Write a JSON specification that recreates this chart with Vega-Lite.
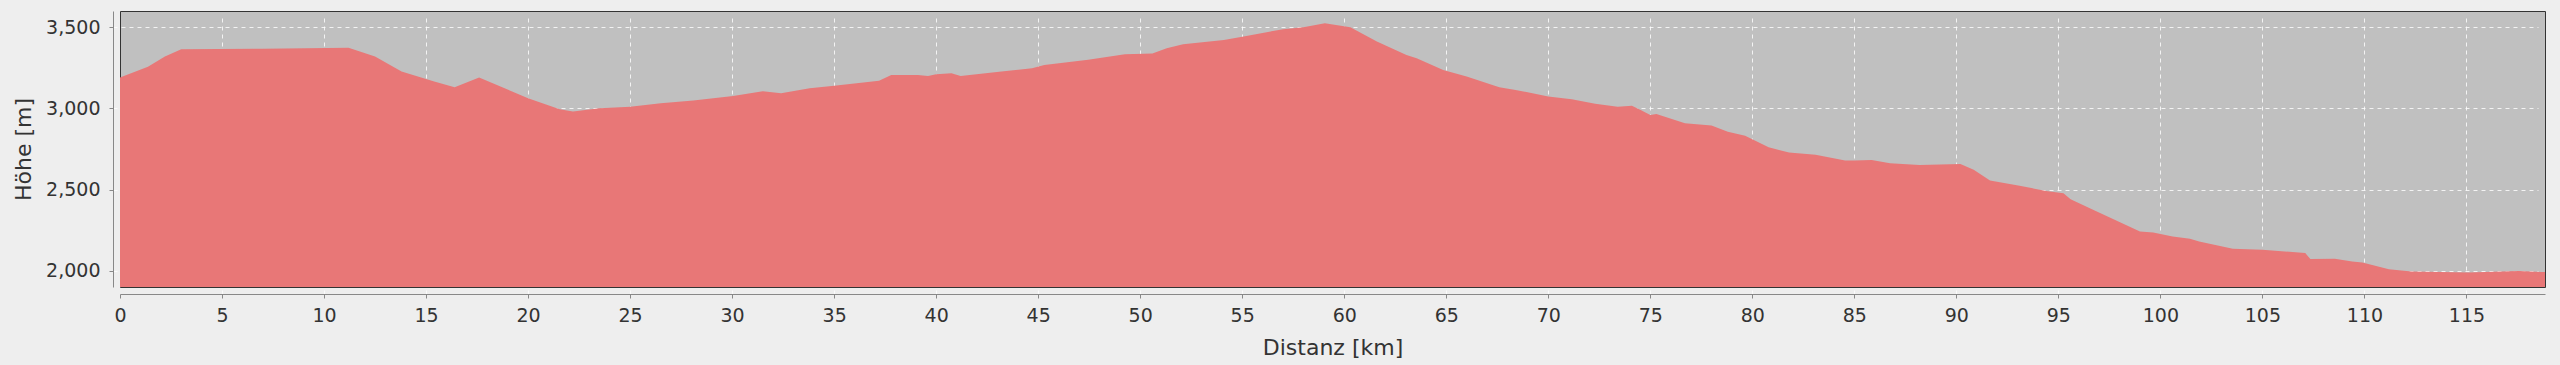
{
  "$schema": "https://vega.github.io/schema/vega-lite/v6.json",
  "width": 2425,
  "height": 276,
  "autosize": {"type": "none"},
  "padding": {"left": 120, "top": 11, "right": 15, "bottom": 78},
  "background": "#eeeeee",
  "config": {
    "view": {"fill": "#c0c0c0", "stroke": "#333333", "strokeWidth": 1},
    "axis": {
      "labelFont": "DejaVu Sans",
      "titleFont": "DejaVu Sans",
      "labelFontSize": 19,
      "titleFontSize": 22,
      "titleFontWeight": "normal",
      "labelColor": "#333333",
      "titleColor": "#333333",
      "domainColor": "#888888",
      "tickColor": "#888888",
      "tickSize": 4,
      "offset": 7,
      "grid": true,
      "gridColor": "#ffffff",
      "gridDash": [4, 4],
      "gridWidth": 1
    }
  },
  "data": {
    "values": [
      {"km": 0, "m": 3190}, {"km": 0.7, "m": 3225}, {"km": 1.37, "m": 3257}, {"km": 2.2, "m": 3320},
      {"km": 3.0, "m": 3365}, {"km": 7.0, "m": 3368}, {"km": 11.2, "m": 3373}, {"km": 12.5, "m": 3319},
      {"km": 13.8, "m": 3227}, {"km": 15.4, "m": 3165}, {"km": 16.4, "m": 3131}, {"km": 17.6, "m": 3190},
      {"km": 20.0, "m": 3063}, {"km": 21.55, "m": 2995}, {"km": 22.2, "m": 2981}, {"km": 23.5, "m": 3001},
      {"km": 25.0, "m": 3011}, {"km": 26.5, "m": 3032}, {"km": 28.1, "m": 3048}, {"km": 30.05, "m": 3077},
      {"km": 31.5, "m": 3106}, {"km": 32.4, "m": 3094}, {"km": 33.8, "m": 3124}, {"km": 35.0, "m": 3139},
      {"km": 37.2, "m": 3171}, {"km": 37.8, "m": 3206}, {"km": 39.1, "m": 3206}, {"km": 39.6, "m": 3200},
      {"km": 40.0, "m": 3211}, {"km": 40.75, "m": 3217}, {"km": 41.2, "m": 3200}, {"km": 43.2, "m": 3227},
      {"km": 44.7, "m": 3248}, {"km": 45.3, "m": 3268}, {"km": 47.45, "m": 3299}, {"km": 49.25, "m": 3334},
      {"km": 50.6, "m": 3338}, {"km": 51.3, "m": 3371}, {"km": 52.1, "m": 3395}, {"km": 54.1, "m": 3422},
      {"km": 55.0, "m": 3442}, {"km": 57.0, "m": 3488}, {"km": 58.0, "m": 3500}, {"km": 59.05, "m": 3525},
      {"km": 60.3, "m": 3500}, {"km": 61.6, "m": 3412}, {"km": 63.05, "m": 3329}, {"km": 63.55, "m": 3309},
      {"km": 64.85, "m": 3237}, {"km": 66.0, "m": 3196}, {"km": 67.6, "m": 3131}, {"km": 68.4, "m": 3114},
      {"km": 70.0, "m": 3073}, {"km": 71.15, "m": 3057}, {"km": 72.3, "m": 3028}, {"km": 73.4, "m": 3011},
      {"km": 74.1, "m": 3017}, {"km": 74.6, "m": 2985}, {"km": 75.0, "m": 2960}, {"km": 75.3, "m": 2965},
      {"km": 76.7, "m": 2909}, {"km": 78.0, "m": 2894}, {"km": 78.8, "m": 2857}, {"km": 79.65, "m": 2831},
      {"km": 80.8, "m": 2761}, {"km": 81.8, "m": 2728}, {"km": 83.1, "m": 2714}, {"km": 84.55, "m": 2679},
      {"km": 85.0, "m": 2679}, {"km": 85.85, "m": 2683}, {"km": 86.75, "m": 2663}, {"km": 88.2, "m": 2652},
      {"km": 90.2, "m": 2658}, {"km": 90.85, "m": 2622}, {"km": 91.65, "m": 2556}, {"km": 93.1, "m": 2523},
      {"km": 94.4, "m": 2492}, {"km": 95.25, "m": 2478}, {"km": 95.6, "m": 2441}, {"km": 96.7, "m": 2376},
      {"km": 99.0, "m": 2242}, {"km": 99.65, "m": 2236}, {"km": 100.6, "m": 2211}, {"km": 101.45, "m": 2197},
      {"km": 101.9, "m": 2180}, {"km": 103.55, "m": 2135}, {"km": 105.0, "m": 2129}, {"km": 107.1, "m": 2109},
      {"km": 107.35, "m": 2072}, {"km": 108.55, "m": 2074}, {"km": 109.4, "m": 2057}, {"km": 109.9, "m": 2051},
      {"km": 111.2, "m": 2010}, {"km": 112.3, "m": 1996}, {"km": 115.1, "m": 1990}, {"km": 117.55, "m": 1998},
      {"km": 118.85, "m": 1992}
    ]
  },
  "mark": {"type": "area", "color": "#e87777", "clip": true, "interpolate": "linear"},
  "encoding": {
    "x": {
      "field": "km",
      "type": "quantitative",
      "scale": {"domain": [0, 118.85], "nice": false, "zero": false},
      "axis": {
        "title": "Distanz [km]",
        "values": [0,5,10,15,20,25,30,35,40,45,50,55,60,65,70,75,80,85,90,95,100,105,110,115],
        "labelPadding": 8,
        "labelFlush": false,
        "titlePadding": 12,
        "format": "d",
        "gridOpacity": {"condition": {"test": "datum.value === 0", "value": 0}, "value": 0.8}
      }
    },
    "y": {
      "field": "m",
      "type": "quantitative",
      "scale": {"domain": [1900, 3600], "nice": false, "zero": false},
      "axis": {
        "title": "Höhe [m]",
        "values": [2000, 2500, 3000, 3500],
        "format": ",d",
        "labelPadding": 9,
        "titlePadding": 10,
        "gridOpacity": 0.8
      }
    },
    "y2": {"datum": 1900}
  }
}
